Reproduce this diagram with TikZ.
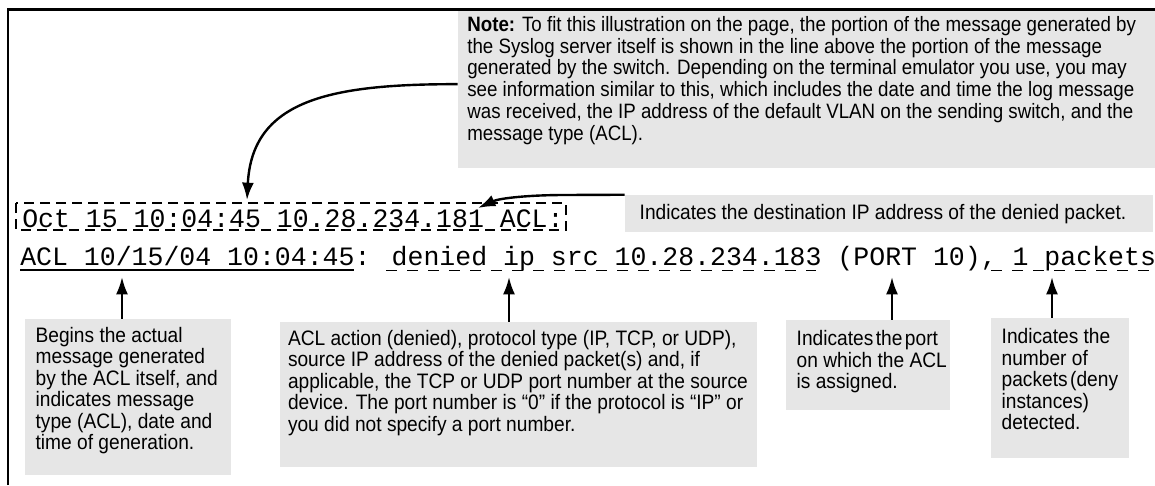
\documentclass[tikz,border=0pt]{standalone}
\usepackage{fontspec}
\setmainfont{Liberation Sans}[FakeStretch=0.9]
\newfontfamily\boxfont{Liberation Sans}[FakeStretch=0.915]
\newfontfamily\codefont{Liberation Mono}
\usetikzlibrary{arrows.meta,fit}
\definecolor{boxgray}{RGB}{230,230,230}
\tikzset{
  frameline/.style={line width=2pt},
  callout/.style={fill=boxgray, draw=none, inner sep=0pt},
  notetext/.style={anchor=north west, inner sep=0pt, align=left,
    font=\fontsize{15.6}{16.3}\selectfont},
  calltext/.style={anchor=north west, inner sep=0pt, align=left,
    font=\boxfont\fontsize{15.7}{16.1}\selectfont},
  codeline/.style={anchor=base west, inner sep=0pt,
    font=\codefont\fontsize{19.9}{24}\selectfont},
  pointer/.style={line width=1.8pt, -{Latex[length=13pt,width=9pt]}},
  solidmark/.style={line width=1.1pt},
  dashmark/.style={line width=1.2pt, dash pattern=on 8pt off 7.75pt},
  dashframe/.style={line width=1.2pt, dash pattern=on 7.5pt off 4.5pt}
}
\begin{document}
\begin{tikzpicture}[x=0.75pt,y=-0.75pt]
\useasboundingbox (0,0) rectangle (1155,485);

% open frame: top and left rules
\draw[frameline] (8,485) -- (8,9.5) -- (1155,9.5);

% the two log lines
\node[codeline] (line1) at (22,227) {Oct 15 10:04:45 10.28.234.181 ACL:};
\node[codeline] (line2) at (20,265) {ACL 10/15/04 10:04:45: denied ip src 10.28.234.183 (PORT 10), 1 packets};

% dashed frame round the server part, marks under the switch part
\draw[dashframe] (16,203) rectangle (566,230);
\draw[solidmark] (20,270) -- (354,270);
\draw[dashmark] (386,270.5) -- (816,270.5);
\draw[dashmark] (991,270.5) -- (1150,270.5);

% callout boxes
\node[callout, fit={(458,11) (1155,168)}] (note) {};
\node[callout, fit={(625,195) (1153,232)}] (dest) {};
\node[callout, fit={(25,319) (231,475)}] (boxA) {};
\node[callout, fit={(280,322) (757,467)}] (boxB) {};
\node[callout, fit={(786,320) (950,410)}] (boxC) {};
\node[callout, fit={(991,318) (1129,458)}] (boxD) {};

\node[notetext] (notetext) at ([xshift=7pt,yshift=-4pt]note.north west)
  {\textbf{Note:} To fit this illustration on the page, the portion of the message generated by\\
   the Syslog server itself is shown in the line above the portion of the message\\
   generated by the switch. Depending on the terminal emulator you use, you may\\
   see information similar to this, which includes the date and time the log message\\
   was received, the IP address of the default VLAN on the sending switch, and the\\
   message type (ACL).};
\node[calltext, anchor=west] (desttext) at ([xshift=11pt,yshift=-0.5pt]dest.west)
  {Indicates the destination IP address of the denied packet.};
\node[calltext] (textA) at ([xshift=8pt,yshift=-6pt]boxA.north west)
  {Begins the actual\\ message generated\\ by the ACL itself, and\\ indicates message\\ type (ACL), date and\\ time of generation.};
\node[calltext] (textB) at ([xshift=6pt,yshift=-6pt]boxB.north west)
  {ACL action (denied), protocol type (IP, TCP, or UDP),\\
   source IP address of the denied packet(s) and, if\\
   applicable, the TCP or UDP port number at the source\\
   device. The port number is “0” if the protocol is “IP” or\\
   you did not specify a port number.};
\node[calltext] (textC) at ([xshift=8pt,yshift=-8pt]boxC.north west)
  {\spaceskip=0.12em Indicates the port\\ on which the ACL\\ is assigned.};
\node[calltext] (textD) at ([xshift=8pt,yshift=-8pt]boxD.north west)
  {Indicates the\\ number of\\ packets\hspace{0.12em}(deny\\ instances)\\ detected.};

% pointer ends on the log lines
\coordinate (tipNote) at (247,200);
\coordinate (tipDest) at (478,208);
\coordinate (upA) at (122,277);
\coordinate (upB) at (509,277);
\coordinate (upC) at (892,277);
\coordinate (upD) at (1052,277);

\draw[pointer] ([yshift=4pt]note.west) .. controls (330,84) and (252,100) .. (tipNote);
\draw[pointer] (dest.north west) -- (565,195) .. controls (530,195) and (500,198) .. (tipDest);
\draw[pointer] (boxA.north -| upA) -- (upA);
\draw[pointer] (boxB.north -| upB) -- (upB);
\draw[pointer] (boxC.north -| upC) -- (upC);
\draw[pointer] (boxD.north -| upD) -- (upD);
\end{tikzpicture}
\end{document}
